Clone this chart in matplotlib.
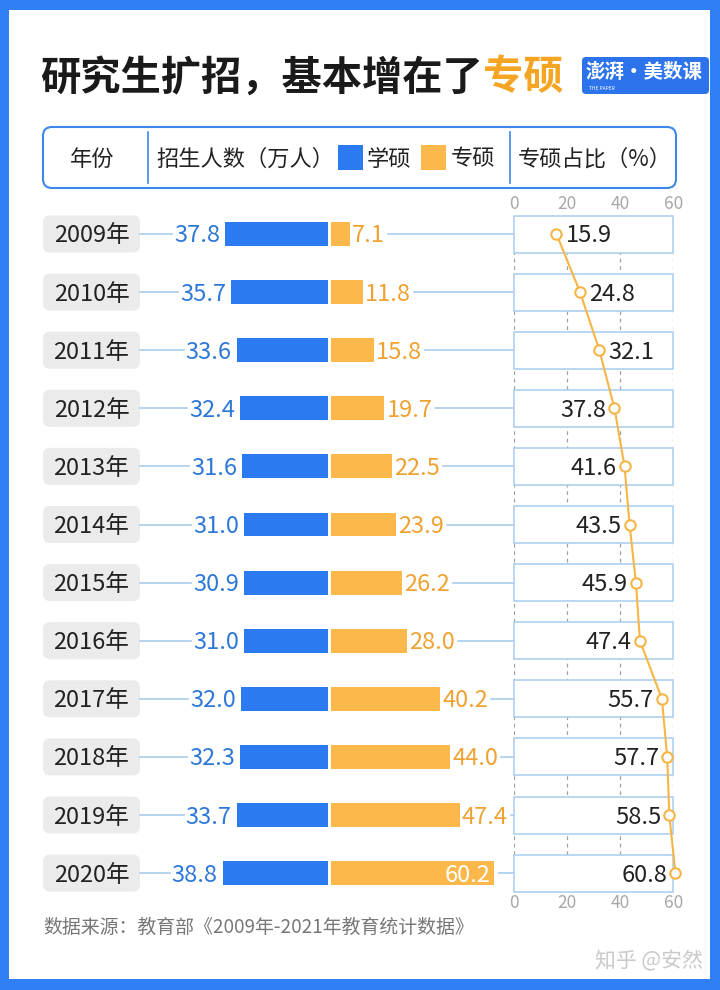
import matplotlib
matplotlib.use("Agg")
import matplotlib.pyplot as plt
from matplotlib.patches import FancyBboxPatch, Rectangle
import matplotlib.transforms as mtransforms

plt.rcParams['font.family'] = ['Noto Sans CJK SC', 'DejaVu Sans']

# ---------------- data ----------------
years = ["2009年", "2010年", "2011年", "2012年", "2013年", "2014年",
         "2015年", "2016年", "2017年", "2018年", "2019年", "2020年"]
academic = [37.8, 35.7, 33.6, 32.4, 31.6, 31.0, 30.9, 31.0, 32.0, 32.3, 33.7, 38.8]
professional = [7.1, 11.8, 15.8, 19.7, 22.5, 23.9, 26.2, 28.0, 40.2, 44.0, 47.4, 60.2]
share = [15.9, 24.8, 32.1, 37.8, 41.6, 43.5, 45.9, 47.4, 55.7, 57.7, 58.5, 60.8]
share_ticks = [0, 20, 40, 60]

title_main = "研究生扩招，基本增在了"
title_hl = "专硕"
source = "数据来源：教育部《2009年-2021年教育统计数据》"
watermark = "知乎 @安然"

# ---------------- style ----------------
BORDER = "#2F80F5"
BLUE = "#2B7AF0"
BLUE_TXT = "#2D78D8"
ORANGE = "#FDB84B"
ORANGE_TXT = "#EFA232"
TITLE_OR = "#F5A523"
LINE_OR = "#F6B546"
CONN = "#A9CDEF"
BOXEDGE = "#AFCFEF"
DARK = "#222222"
TY = -2  # pixel nudge so digits sit visually centred on rows

W, H = 720, 990
fig = plt.figure(figsize=(W / 100, H / 100), dpi=100, facecolor=BORDER)


def frac(x0, y0, x1, y1):
    return [x0 / W, 1 - y1 / H, (x1 - x0) / W, (y1 - y0) / H]


bg = fig.add_axes([0, 0, 1, 1], zorder=0)
bg.set_xlim(0, W)
bg.set_ylim(H, 0)
bg.axis('off')
bg.add_patch(Rectangle((9, 10), 701, 969, facecolor='white', edgecolor='none'))

# title
t1 = bg.text(40, 78, title_main, fontsize=29, fontweight='bold', color='#1A1A1A',
             ha='left', va='center')
bg.annotate(title_hl, xy=(1, 0.5), xycoords=t1, fontsize=29, fontweight='bold',
            color=TITLE_OR, ha='left', va='center')

# logo
bg.add_patch(FancyBboxPatch((582, 57), 127, 37, boxstyle="round,pad=0,rounding_size=4",
                            facecolor="#2D74EC", edgecolor='none'))
bg.text(644, 73, "澎湃·美数课", fontsize=14, fontweight='bold', color='white',
        ha='center', va='center')
bg.text(589, 89, "THE PAPER", fontsize=3.5, color='white', ha='left', va='center')

# header box
bg.add_patch(FancyBboxPatch((43, 127), 633, 61, boxstyle="round,pad=0,rounding_size=9",
                            facecolor='white', edgecolor='#3D87EA', lw=1.5))
for xd in (148, 510):
    bg.plot([xd, xd], [132, 183], color='#3D87EA', lw=1.2)
hy = 159
bg.text(92, hy, "年份", fontsize=16, color=DARK, ha='center', va='center')
bg.text(156, hy, "招生人数（万人）", fontsize=16, color=DARK, ha='left', va='center')
bg.add_patch(Rectangle((338, 145), 25, 25, facecolor=BLUE, edgecolor='none'))
bg.text(367, hy, "学硕", fontsize=16, color=DARK, ha='left', va='center')
bg.add_patch(Rectangle((421, 145), 25, 25, facecolor=ORANGE, edgecolor='none'))
bg.text(451, hy, "专硕", fontsize=16, color=DARK, ha='left', va='center')
bg.text(518, hy, "专硕占比（%）", fontsize=16, color=DARK, ha='left', va='center')

# ---------------- bar axes ----------------
ROW0, ROWH = 234.0, 58.1
n = len(years)
idx = list(range(n))
SCALE = 2.715  # px per unit
CX = 329.5
GAP = 1.5 / SCALE
bx0, bx1 = 150, 510
ax = fig.add_axes(frac(bx0, ROW0 - 0.5 * ROWH, bx1, ROW0 + (n - 0.5) * ROWH), zorder=2)
ax.set_xlim((bx0 - CX) / SCALE, (bx1 - CX) / SCALE)
ax.set_ylim(n - 0.5, -0.5)
ax.patch.set_alpha(0)
ax.axis('off')

ax.barh(idx, [-v for v in academic], left=-GAP, height=0.413, color=BLUE)
ax.barh(idx, professional, left=GAP, height=0.413, color=ORANGE)

blue_labels = []
or_labels = []
for i, v in enumerate(academic):
    t = ax.annotate(f"{v:.1f}", xy=(-GAP - v, i), xytext=(-5, TY), textcoords='offset pixels',
                    ha='right', va='center', fontsize=17, color=BLUE_TXT,
                    annotation_clip=False)
    blue_labels.append(t)
for i, v in enumerate(professional):
    if v >= 55:
        t = ax.annotate(f"{v:.1f}", xy=(GAP + v, i), xytext=(-4, TY), textcoords='offset pixels',
                        ha='right', va='center', fontsize=17, color='white',
                        annotation_clip=False)
        or_labels.append((t, True))
    else:
        t = ax.annotate(f"{v:.1f}", xy=(GAP + v, i), xytext=(2, TY), textcoords='offset pixels',
                        ha='left', va='center', fontsize=17, color=ORANGE_TXT,
                        annotation_clip=False)
        or_labels.append((t, False))

# year labels (x in pixels, y tied to bar axis rows)
ytrans = mtransforms.blended_transform_factory(bg.transData, ax.transData)
ytrans_n = ytrans + mtransforms.ScaledTranslation(0, TY / 100, fig.dpi_scale_trans)
for i, yl in enumerate(years):
    bg.add_patch(FancyBboxPatch((43, ROW0 + i * ROWH - 18.5), 97, 37,
                                boxstyle="round,pad=0,rounding_size=7",
                                facecolor='#EBEBEB', edgecolor='none'))
    ax.text(91.5, i, yl, transform=ytrans_n, fontsize=17, color=DARK, ha='center', va='center')

# ---------------- share axes ----------------
lx0, lx1 = 514.3, 673.3
ly0, ly1 = 215.5, 891.5
lax = fig.add_axes(frac(lx0, ly0, lx1, ly1), zorder=3)
lax.set_xlim(0, 60)
lax.set_ylim((ly1 - ROW0) / ROWH, (ly0 - ROW0) / ROWH)
lax.patch.set_alpha(0)
for s in lax.spines.values():
    s.set_visible(False)
lax.set_yticks([])
lax.set_xticks(share_ticks)
lax.set_xticklabels([str(t) for t in share_ticks])
lax.tick_params(axis='x', length=0, labeltop=True, labelbottom=True, labelsize=12.5,
                labelcolor='#A8A8A8', pad=2)
lax.grid(axis='x', color='#A0A0A0', linestyle=(0, (3, 3)), lw=0.9, zorder=0)
lax.set_axisbelow(True)
bt = mtransforms.blended_transform_factory(lax.transAxes, lax.transData)
bh = 37 / ROWH
for i in idx:
    lax.add_patch(Rectangle((0, i - bh / 2), 1, bh, transform=bt, facecolor='white',
                            edgecolor=BOXEDGE, lw=1.2, zorder=1, clip_on=False))
lax.plot(share, idx, color=LINE_OR, lw=1.5, marker='o', ms=7.5, mfc='white',
         mec=LINE_OR, mew=1.5, zorder=3, clip_on=False)
for i, v in enumerate(share):
    if v < 35:
        lax.annotate(f"{v:.1f}", xy=(v, i), xytext=(9, TY), textcoords='offset pixels',
                     ha='left', va='center', fontsize=17, color=DARK, zorder=4,
                     annotation_clip=False)
    else:
        lax.annotate(f"{v:.1f}", xy=(v, i), xytext=(-8, TY), textcoords='offset pixels',
                     ha='right', va='center', fontsize=17, color=DARK, zorder=4,
                     annotation_clip=False)

# footer
bg.text(43, 927, source, fontsize=13.6, color='#777777', ha='left', va='center')
bg.text(703, 961, watermark, fontsize=15, color='#C9C9C9', ha='right', va='center')

# connectors (need text extents)
fig.canvas.draw()
r = fig.canvas.get_renderer()
inv = bg.transData.inverted()
for i in idx:
    y = ROW0 + i * ROWH
    bb = blue_labels[i].get_window_extent(r)
    xl = inv.transform((bb.x0, 0))[0]
    bg.plot([140, xl - 2], [y, y], color=CONN, lw=1.2, zorder=1)
    t, inside = or_labels[i]
    if inside:
        xr = CX + 1.5 + professional[i] * SCALE + 5
    else:
        xr = inv.transform((t.get_window_extent(r).x1, 0))[0] + 3
    bg.plot([xr, lx0], [y, y], color=CONN, lw=1.2, zorder=1)

fig.savefig("out.png", dpi=100, facecolor=BORDER)
